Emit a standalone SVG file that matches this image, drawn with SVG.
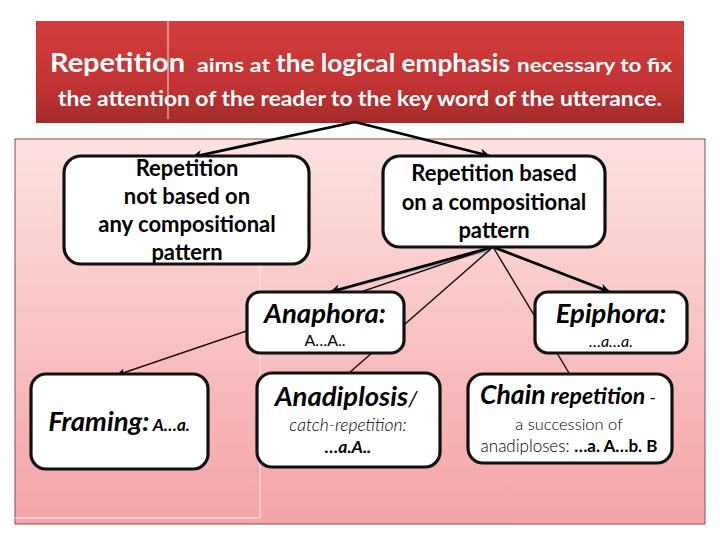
<svg xmlns="http://www.w3.org/2000/svg" width="720" height="540" viewBox="0 0 720 540">
<defs>
<linearGradient id="red" x1="0" y1="0" x2="0" y2="1">
<stop offset="0" stop-color="#d13d3c"/>
<stop offset="0.6" stop-color="#c43434"/>
<stop offset="1" stop-color="#a32a2a"/>
</linearGradient>
<linearGradient id="pink" x1="0" y1="0" x2="0" y2="1">
<stop offset="0" stop-color="#fde2e1"/>
<stop offset="0.5" stop-color="#f9c3c3"/>
<stop offset="1" stop-color="#f4a3a6"/>
</linearGradient>
<marker id="arr" markerUnits="userSpaceOnUse" markerWidth="12" markerHeight="10" refX="10" refY="5" orient="auto">
<path d="M0,0 L10,5 L0,10 L3,5 z" fill="#000"/>
</marker>
<marker id="arrs" markerUnits="userSpaceOnUse" markerWidth="10" markerHeight="8" refX="8" refY="4" orient="auto">
<path d="M0,0 L8,4 L0,8 L2,4 z" fill="#000"/>
</marker>
</defs>
<style>
.box{fill:#fff;stroke:#111;stroke-width:3.2}
.t{font-family:Lato,"Liberation Sans",sans-serif;fill:#000;text-anchor:middle}
.b{font-weight:bold}
.bi{font-weight:bold;font-style:italic}
.w{fill:#fff;font-family:Lato,"Liberation Sans",sans-serif;font-weight:bold}
.thick{stroke:#000;stroke-width:2.8;fill:none}
.thin{stroke:#1a0808;stroke-width:1.4;fill:none}
</style>
<rect x="0" y="0" width="720" height="540" fill="#fff"/>
<rect x="15" y="139" width="690" height="385" fill="url(#pink)" stroke="#8a4a4a" stroke-width="1"/>
<line x1="260" y1="262" x2="260" y2="518" stroke="#fbe9e9" stroke-width="1"/>
<line x1="15" y1="518" x2="260" y2="518" stroke="#fbe9e9" stroke-width="1"/>
<g id="banner">
<rect x="36" y="21" width="648" height="102" fill="url(#red)"/>
<line x1="168" y1="21" x2="168" y2="119" stroke="#f3dede" stroke-width="1"/>
<text class="w" x="50" y="72" font-size="27" textLength="135" lengthAdjust="spacingAndGlyphs">Repetition</text>
<text class="w" x="197" y="72" font-size="18" textLength="73" lengthAdjust="spacingAndGlyphs">aims at</text>
<text class="w" x="276" y="72" font-size="24" textLength="234" lengthAdjust="spacingAndGlyphs">the logical emphasis</text>
<text class="w" x="517" y="72" font-size="18" textLength="155" lengthAdjust="spacingAndGlyphs">necessary to fix</text>
<text class="w" x="58" y="106" font-size="21" textLength="604" lengthAdjust="spacingAndGlyphs">the attention of the reader to the key word of the utterance.</text>
</g>
<g id="connectors">
<line class="thick" x1="355" y1="122" x2="192" y2="157" marker-end="url(#arr)"/>
<line class="thick" x1="355" y1="122" x2="490" y2="156" marker-end="url(#arr)"/>
<line x1="490" y1="250" x2="336" y2="291" stroke="#8c9fc6" stroke-width="2"/>
<line class="thick" x1="493" y1="247" x2="330" y2="292" marker-end="url(#arr)"/>
<line class="thick" x1="493" y1="247" x2="610" y2="292" marker-end="url(#arr)"/>
<line class="thin" x1="493" y1="247" x2="117" y2="375" marker-end="url(#arrs)"/>
<line class="thin" x1="493" y1="247" x2="349" y2="373"/>
<line class="thin" x1="493" y1="247" x2="569" y2="373"/>
</g>
<g id="node-not-based">
<rect class="box" x="64" y="156" width="245" height="108" rx="17"/>
<text class="t b" font-size="22"><tspan x="187" y="176">Repetition</tspan><tspan x="187" y="204">not based on</tspan><tspan x="187" y="232">any compositional</tspan><tspan x="187" y="260">pattern</tspan></text>
</g>
<g id="node-based">
<rect class="box" x="383" y="156" width="222" height="91" rx="17"/>
<text class="t b" font-size="22"><tspan x="494" y="181">Repetition based</tspan><tspan x="494" y="210">on a compositional</tspan><tspan x="494" y="238">pattern</tspan></text>
</g>
<g id="node-anaphora">
<rect class="box" x="247" y="292" width="157" height="61" rx="13"/>
<text class="t bi" x="325" y="323" font-size="27.5">Anaphora:</text>
<text class="t" x="325" y="346" font-size="16">A…A..</text>
</g>
<g id="node-epiphora">
<rect class="box" x="535" y="292" width="152" height="61" rx="13"/>
<text class="t bi" x="611" y="323" font-size="27.5">Epiphora:</text>
<text class="t" x="611" y="347" font-size="16" font-style="italic">…a…a.</text>
</g>
<g id="node-framing">
<rect class="box" x="31" y="374" width="177" height="95" rx="15"/>
<text class="t" x="119" y="431"><tspan class="bi" font-size="27.5">Framing:</tspan><tspan font-size="17" font-weight="bold" font-style="italic"> A…a.</tspan></text>
</g>
<g id="node-anadiplosis">
<rect class="box" x="257" y="373" width="183" height="94" rx="15"/>
<text class="t" x="346" y="406"><tspan class="bi" font-size="27.5">Anadiplosis</tspan><tspan font-size="22" font-style="italic">/</tspan></text>
<text class="t" x="348" y="431" font-size="17.5" font-style="italic" font-weight="300">catch-repetition:</text>
<text class="t bi" x="348" y="453" font-size="17.5">…a.A..</text>
</g>
<g id="node-chain">
<rect class="box" x="468" y="374" width="204" height="89" rx="15"/>
<text class="t" x="568" y="404"><tspan class="bi" font-size="26.5">Chain</tspan><tspan class="bi" font-size="23"> repetition</tspan><tspan font-size="17"> -</tspan></text>
<text class="t" x="569" y="430" font-size="16.5" font-weight="300">a succession of</text>
<text class="t" x="569" y="452" font-size="17"><tspan font-weight="300">anadiploses: </tspan><tspan font-weight="bold">…a. A…b. B</tspan></text>
</g>
</svg>
